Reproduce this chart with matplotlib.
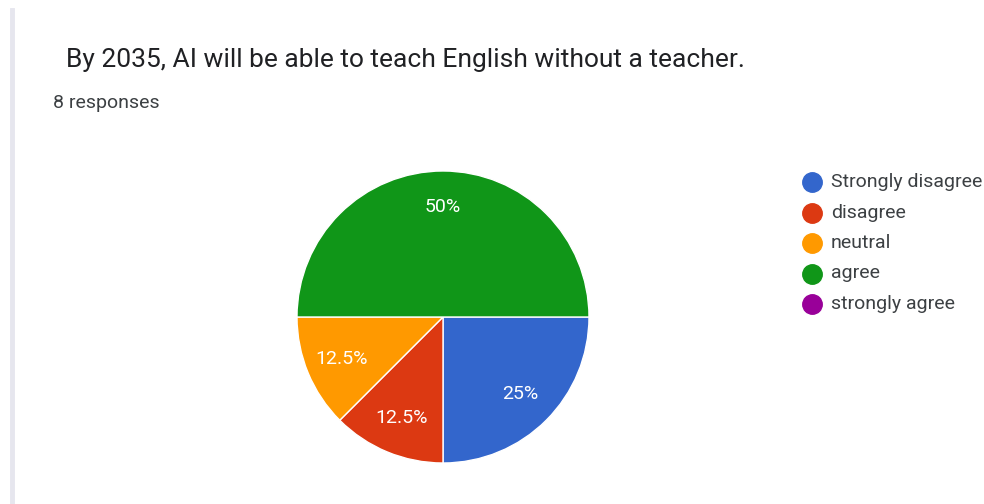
import matplotlib.pyplot as plt
from matplotlib.lines import Line2D

title = 'By 2035, AI will be able to teach English without a teacher.'
subtitle = '8 responses'
categories = ['Strongly disagree', 'disagree', 'neutral', 'agree', 'strongly agree']
counts = [2, 1, 1, 4, 0]
colors = ['#3366cc', '#dc3912', '#ff9900', '#109618', '#990099']

plt.rcParams['font.family'] = ['Roboto', 'DejaVu Sans']

W, H = 984, 504
fig = plt.figure(figsize=(W / 100, H / 100), dpi=100)
fig.patch.set_facecolor('white')

# left card border
fig.add_artist(Line2D([11.5 / W, 11.5 / W], [0, 1 - 10 / H], color='#e6e6ee', lw=3.5))

fig.text(66 / W, 1 - 60 / H, title, fontsize=19, color='#202124', va='center', ha='left')
fig.text(53 / W, 1 - 103 / H, subtitle, fontsize=14, color='#3c4043', va='center', ha='left')

# pie: center (443, 317), radius ~146 px
cx, cy, r = 443, 317, 146
ax = fig.add_axes([(cx - r) / W, 1 - (cy + r) / H, 2 * r / W, 2 * r / H])
vals = [c for c in counts if c > 0]
cols = [col for c, col in zip(counts, colors) if c > 0]
wedges, texts, autotexts = ax.pie(vals, colors=cols, startangle=0, counterclock=False,
                                  autopct=lambda p: ('%g%%' % p), pctdistance=0.75,
                                  wedgeprops=dict(edgecolor='white', linewidth=1),
                                  textprops=dict(color='white', fontsize=14))
ax.set_xlim(-1, 1)
ax.set_ylim(-1, 1)
ax.set_aspect('equal')

# legend
y0 = 182
for i, (lab, col) in enumerate(zip(categories, colors)):
    y = 1 - (y0 + i * 30.5) / H
    fig.text(831 / W, y, lab, fontsize=14, color='#3c4043', va='center', ha='left')
    fig.add_artist(Line2D([812 / W], [y], marker='o', markersize=14, color=col, lw=0))

fig.savefig('out.png', dpi=100)
